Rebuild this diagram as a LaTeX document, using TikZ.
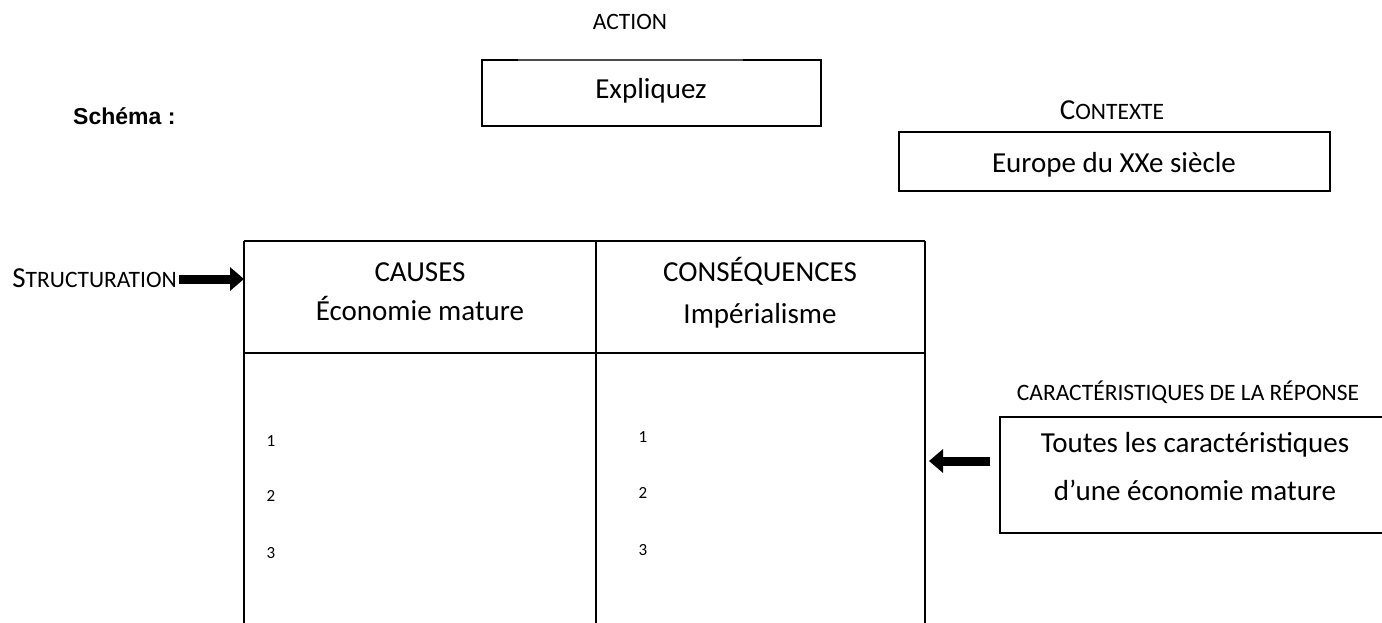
\documentclass[tikz,border=0pt]{standalone}
\usepackage{fontspec}
\setmainfont{Carlito}
\newfontfamily\arialfont{Liberation Sans}
\usetikzlibrary{arrows.meta}
\tikzset{
  boxline/.style={draw=black, line width=1.8pt},
  thinline/.style={draw=black!70, line width=1.1pt},
  plain/.style={inner sep=0pt, anchor=base},
  lbl/.style={plain, font=\fontsize{23.5}{28}\selectfont},
  big/.style={plain, font=\fontsize{29}{35}\selectfont},
  num/.style={plain, font=\fontsize{17}{20}\selectfont},
  blockarrow/.style={line width=9pt, -{Triangle[length=14pt,width=23pt]}}
}
\newcommand{\fsc}[2]{{\fontsize{29}{35}\selectfont #1}{\fontsize{23.5}{28}\selectfont #2}}
\begin{document}
\begin{tikzpicture}[x=1pt,y=-1pt]
\useasboundingbox (0,0) rectangle (1382,623);
\clip (0,0) rectangle (1382,623);
% ACTION
\node[lbl] (action) at (630,30) {ACTION};
\coordinate (ea) at (482,60);
\coordinate (eb) at (518,60);
\coordinate (ec) at (743,60);
\coordinate (ed) at (821,60);
\coordinate (ee) at (821,126);
\coordinate (ef) at (482,126);
\draw[boxline, line join=miter] (eb) -- (ea) -- (ef) -- (ee) -- (ed) -- (ec);
\draw[thinline] (eb) -- (ec);
\node[big] (expl) at (651,99) {Expliquez};
% Schema
\node[plain, anchor=base west, font=\arialfont\bfseries\fontsize{23}{27}\selectfont] (schema) at (73,125) {Schéma :};
% Contexte
\node[plain] (contexte) at (1112,120) {\fsc{C}{ONTEXTE}};
\draw[boxline] (899,132) rectangle (1330,191);
\node[big] (europe) at (1114,172) {Europe du XXe siècle};
% Table
\coordinate (tl) at (244,241);
\coordinate (tm) at (596,241);
\coordinate (tr) at (925,241);
\coordinate (hl) at (244,353);
\coordinate (hm) at (596,353);
\coordinate (hr) at (925,353);
\coordinate (bl) at (244,623);
\coordinate (bm) at (596,623);
\coordinate (br) at (925,623);
\draw[boxline] (tl) -- (tr);
\draw[boxline] (hl) -- (hr);
\draw[boxline] (tl) -- (bl);
\draw[boxline, line width=2.6pt] (tm) -- (hm);
\draw[boxline] (hm) -- (bm);
\draw[boxline] (tr) -- (br);
\node[big] (causes) at (420,281) {CAUSES};
\node[big] (eco) at (420,320) {Économie mature};
\node[big] (cons) at (760,281) {CONSÉQUENCES};
\node[big] (imp) at (760,323) {Impérialisme};
\node[num] (l1) at (271,446) {1};
\node[num] (l2) at (271,501) {2};
\node[num] (l3) at (271,558) {3};
\node[num] (r1) at (643,442) {1};
\node[num] (r2) at (643,498) {2};
\node[num] (r3) at (643,555) {3};
% Structuration
\node[plain, anchor=base east] (struct) at (177,287) {\fsc{S}{TRUCTURATION}};
\coordinate (hdrw) at (244,279);
\coordinate (sarr) at (179,279);
\draw[blockarrow] (sarr) -- (hdrw);
% Caracteristiques
\node[lbl] (carlbl) at (1188,400) {CARACTÉRISTIQUES DE LA RÉPONSE};
\draw[boxline] (1400,417) -- (1000,417) -- (1000,533) -- (1400,533);
\node[big] (toutes1) at (1195,452) {Toutes les caractéristiques};
\node[big] (toutes2) at (1195,500) {d’une économie mature};
\coordinate (arrtail) at (990,461);
\coordinate (arrtip) at (929,461);
\draw[blockarrow] (arrtail) -- (arrtip);
\end{tikzpicture}
\end{document}
